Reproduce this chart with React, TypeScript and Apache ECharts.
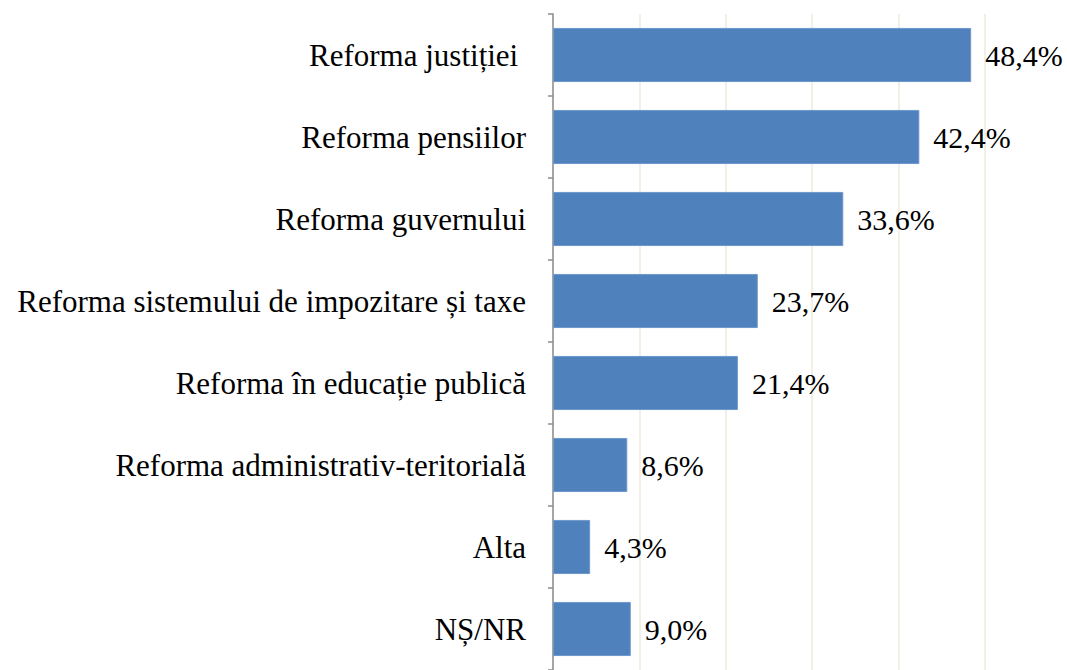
import React, { useEffect, useRef } from "react";
import * as echarts from "echarts";

const categories = [
  "Reforma justiției ",
  "Reforma pensiilor",
  "Reforma guvernului",
  "Reforma sistemului de impozitare și taxe",
  "Reforma în educație publică",
  "Reforma administrativ-teritorială",
  "Alta",
  "NȘ/NR",
];
const values = [48.4, 42.4, 33.6, 23.7, 21.4, 8.6, 4.3, 9.0];

const FONT = "'Liberation Serif', 'Times New Roman', serif";

export default function App() {
  const ref = useRef<HTMLDivElement>(null);
  useEffect(() => {
    if (!ref.current) return;
    const chart = echarts.init(ref.current, undefined, { renderer: "svg" });
    chart.setOption({
      animation: false,
      backgroundColor: "#ffffff",
      grid: { left: 553, top: 14, width: 432, height: 666, containLabel: false },
      xAxis: {
        type: "value",
        min: 0,
        max: 50,
        interval: 10,
        axisLabel: { show: false },
        axisLine: { show: false },
        axisTick: { show: false },
        splitLine: { show: true, lineStyle: { color: "#EEEADB", width: 1.5 } },
      },
      yAxis: {
        type: "category",
        inverse: true,
        data: categories,
        axisLine: { show: true, lineStyle: { color: "#8C8C8C", width: 1.5 } },
        axisTick: { show: true, length: 5, lineStyle: { color: "#8C8C8C", width: 1.5 } },
        axisLabel: {
          margin: 27,
          color: "#000000",
          fontFamily: FONT,
          fontSize: 31,
        },
      },
      series: [
        {
          type: "bar",
          data: values,
          barCategoryGap: "34%",
          itemStyle: { color: "#4F81BD", borderColor: "#6E97CC", borderWidth: 1 },
          label: {
            show: true,
            position: "right",
            distance: 14,
            color: "#000000",
            fontFamily: FONT,
            fontSize: 30,
            formatter: (p: any) => p.value.toFixed(1).replace(".", ",") + "%",
          },
        },
      ],
    });
    return () => chart.dispose();
  }, []);
  return (
    <div
      ref={ref}
      style={{ position: "fixed", left: 0, top: 0, width: 1067, height: 670 }}
    />
  );
}
